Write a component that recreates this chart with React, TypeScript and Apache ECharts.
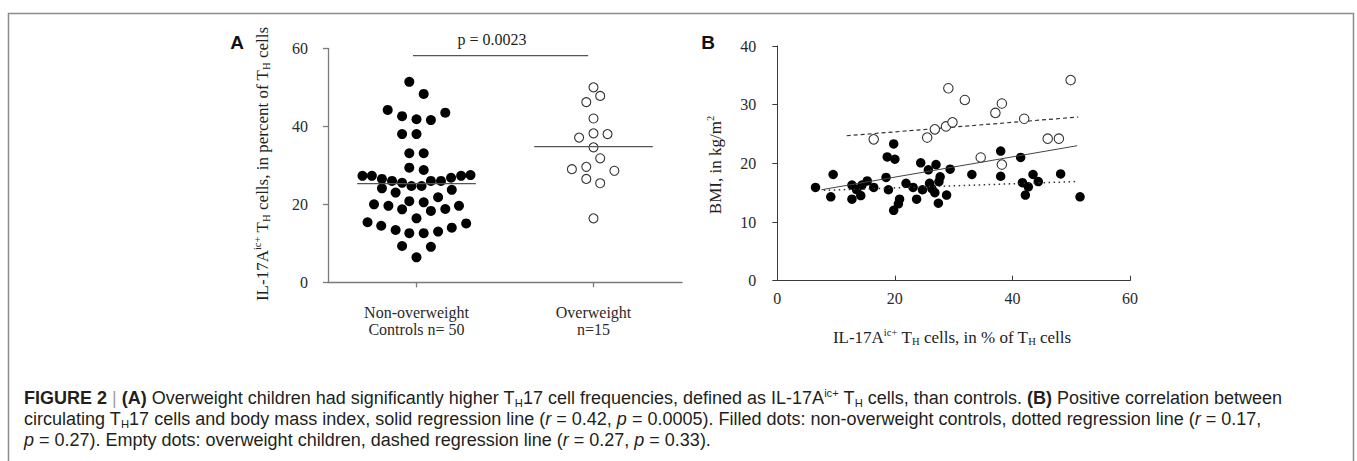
import React, { useEffect, useRef } from "react";
import * as echarts from "echarts";

// ---------- Panel A data ----------
const categoriesA = ["Non-overweight\nControls n= 50", "Overweight\nn=15"];
const controlsA = [
  51.4, 48.3, 44.2, 42.6, 41.8, 41.6, 43.5, 38.0, 38.0, 33.1, 33.1, 29.4, 28.8,
  27.3, 27.3, 26.5, 26.0, 25.5, 26.0, 26.0, 26.8, 27.3, 27.5, 24.1, 23.0, 24.7,
  24.7, 23.7, 21.8, 20.0, 19.6, 20.8, 20.5, 18.7, 18.3, 18.8, 19.6, 16.4, 15.4,
  14.5, 13.4, 12.6, 12.6, 13.0, 14.0, 15.1, 9.3, 9.1, 6.4,
];
// horizontal swarm slot of each dot (one slot = one half dot width)
const controlsSlot = [
  -1, 1, -4, -2, 0, 2, 4, -2, 0, -1, 1, -1, 1, -7.5, -6.2, -4.8, -3.4, -2, 2,
  3.4, 4.8, 6.2, 7.5, -4.8, -2.9, -0.7, 0.7, 4.9, 3, -5.9, -3.9, -1, 1, -2, 2,
  4, 5.9, 0, -6.8, -4.9, -2.9, -1, 1, 3, 4.9, 6.9, -2, 2, 0,
];
const overweightA = [
  50.0, 47.8, 46.2, 42.0, 37.1, 38.2, 38.0, 34.6, 31.8, 29.0, 29.6, 28.6, 26.5,
  25.4, 16.4,
];
const overweightSlot = [0, 0.93, -1, 0, -2, 0, 1.95, 0, 0.93, -3, -1, 2.9, -1, 0.93, 0];
const mediansA = [25.3, 34.8];
const pValueText = "p = 0.0023";
const pBarLevel = 58.1;

// ---------- Panel B data ----------
const controlsBx = [
  6.5, 9.1, 9.5, 12.7, 12.7, 13.5, 14.2, 14.4, 15.3, 16.4, 18.5, 18.7, 20.0,
  19.8, 18.9, 20.8, 20.6, 19.8, 21.9, 23.1, 23.7, 24.4, 24.7, 25.7, 25.9, 26.3,
  27.0, 27.7, 27.5, 26.8, 27.4, 28.8, 29.4, 33.1, 38.0, 38.0, 41.4, 41.7, 42.7,
  42.2, 43.5, 44.4, 48.2, 51.5,
];
const controlsBy = [
  15.9, 14.3, 18.1, 16.3, 13.9, 15.5, 14.5, 16.3, 17.0, 15.9, 17.6, 21.1, 20.7,
  23.3, 15.5, 13.9, 13.1, 12.0, 16.6, 15.9, 13.9, 20.1, 15.5, 18.9, 16.6, 15.7,
  19.8, 17.7, 16.9, 15.0, 13.2, 14.6, 19.0, 18.1, 22.1, 17.8, 21.0, 16.7, 16.0,
  14.6, 18.1, 16.9, 18.2, 14.3,
];
const overweightBx = [16.4, 25.5, 26.8, 28.7, 29.8, 29.1, 31.9, 34.6, 37.1, 38.2, 38.2, 42.0, 46.0, 47.9, 49.9];
const overweightBy = [24.1, 24.4, 25.8, 26.3, 27.0, 32.8, 30.8, 21.0, 28.6, 30.2, 19.8, 27.6, 24.2, 24.2, 34.2];
// regression line end points [x, y]
const allLine = [[7.5, 15.5], [51.0, 23.0]];
const controlsLine = [[7.9, 15.4], [51.0, 16.9]];
const overweightLine = [[11.8, 24.7], [51.2, 27.9]];

const captionLines = [
  "{b|FIGURE 2} {bar||} {b|(A)} Overweight children had significantly higher T{sub|H}17 cell frequencies, defined as IL-17A{sup|ic+} T{sub|H} cells, than controls. {b|(B)} Positive correlation between",
  "circulating T{sub|H}17 cells and body mass index, solid regression line ({i|r} = 0.42, {i|p} = 0.0005). Filled dots: non-overweight controls, dotted regression line ({i|r} = 0.17,",
  "{i|p} = 0.27). Empty dots: overweight children, dashed regression line ({i|r} = 0.27, {i|p} = 0.33).",
];

const SERIF = "'Liberation Serif', 'Times New Roman', serif";
const SANS = "'Liberation Sans', Arial, sans-serif";
const SLOT = 7.2 / 177;
const MEDIAN_HALF = 0.335;

function richStyles(size: number, family: string, color: string) {
  const s = Math.round(size * 0.62 * 10) / 10;
  return {
    sub: { fontSize: s, fontFamily: family, verticalAlign: "bottom", lineHeight: s, fill: color },
    sup: { fontSize: s, fontFamily: family, verticalAlign: "top", lineHeight: s, fill: color },
    b: { fontSize: size, fontFamily: family, fontWeight: "bold", fill: color },
    i: { fontSize: size, fontFamily: family, fontStyle: "italic", fill: color },
    bar: { fontSize: size, fontFamily: family, fill: "#a0a0a0" },
  };
}

function textEl(text: string, x: number, y: number, size: number, family: string, opts: any = {}) {
  const color = opts.color || "#222";
  return {
    type: "text",
    x,
    y,
    rotation: opts.rotation || 0,
    silent: true,
    style: {
      text,
      fontSize: size,
      fontFamily: family,
      fontWeight: opts.bold ? "bold" : "normal",
      fill: color,
      lineHeight: opts.lineHeight || Math.round(size * 1.25),
      align: opts.align || "center",
      verticalAlign: "middle",
      textAlign: opts.align || "center",
      textVerticalAlign: "middle",
      rich: richStyles(size, family, color),
    },
  };
}

export default function App() {
  const ref = useRef<HTMLDivElement>(null);
  useEffect(() => {
    document.body.style.margin = "0";
    if (!ref.current) return;
    const chart = echarts.init(ref.current, null, { renderer: "svg" });
    const axisGrayA = "#7a7a7a";
    const axisB = "#3a3a3a";
    const tickLabel = { fontFamily: SERIF, fontSize: 16, color: "#2a2a2a" };
    const option: any = {
      animation: false,
      backgroundColor: "#ffffff",
      grid: [
        { left: 328, top: 48.3, width: 354, height: 234 },
        { left: 777.3, top: 46, width: 352.7, height: 234.7 },
      ],
      xAxis: [
        {
          gridIndex: 0,
          type: "category",
          data: categoriesA,
          boundaryGap: true,
          axisLine: { show: true, lineStyle: { color: axisGrayA, width: 1.3 } },
          axisTick: { show: true, alignWithLabel: true, length: 5, lineStyle: { color: axisGrayA, width: 1.3 } },
          axisLabel: { ...tickLabel, margin: 22, lineHeight: 17, interval: 0 },
          splitLine: { show: false },
        },
        { gridIndex: 0, type: "value", min: 0, max: 2, show: false },
        {
          gridIndex: 1,
          type: "value",
          min: 0,
          max: 60,
          interval: 20,
          axisLine: { show: true, onZero: false, lineStyle: { color: axisB, width: 1 } },
          axisTick: { show: true, inside: true, length: 5, lineStyle: { color: axisB, width: 1 } },
          axisLabel: { ...tickLabel, margin: 10 },
          splitLine: { show: false },
        },
      ],
      yAxis: [
        {
          gridIndex: 0,
          type: "value",
          min: 0,
          max: 60,
          interval: 20,
          axisLine: { show: true, lineStyle: { color: axisGrayA, width: 1.3 } },
          axisTick: { show: true, length: 5, lineStyle: { color: axisGrayA, width: 1.3 } },
          axisLabel: { ...tickLabel, margin: 20 },
          splitLine: { show: false },
        },
        {
          gridIndex: 1,
          type: "value",
          min: 0,
          max: 40,
          interval: 10,
          axisLine: { show: true, onZero: false, lineStyle: { color: axisB, width: 1 } },
          axisTick: { show: true, length: 5, lineStyle: { color: axisB, width: 1 } },
          axisLabel: { ...tickLabel, margin: 21 },
          splitLine: { show: false },
        },
      ],
      series: [
        {
          type: "scatter",
          xAxisIndex: 1,
          yAxisIndex: 0,
          symbolSize: 10,
          itemStyle: { color: "#000", opacity: 1 },
          silent: true,
          data: controlsA.map((v, i) => [0.5 + controlsSlot[i] * SLOT, v]),
        },
        {
          type: "scatter",
          xAxisIndex: 1,
          yAxisIndex: 0,
          symbolSize: 9,
          itemStyle: { color: "#fff", borderColor: "#333", borderWidth: 1.1, opacity: 1 },
          silent: true,
          data: overweightA.map((v, i) => [1.5 + overweightSlot[i] * SLOT, v]),
        },
        ...mediansA.map((m, i) => ({
          type: "line",
          xAxisIndex: 1,
          yAxisIndex: 0,
          symbol: "none",
          silent: true,
          z: 5,
          lineStyle: { color: "#555", width: 1.3 },
          data: [
            [i + 0.5 - MEDIAN_HALF, m],
            [i + 0.5 + MEDIAN_HALF, m],
          ],
        })),
        {
          type: "line",
          xAxisIndex: 1,
          yAxisIndex: 0,
          symbol: "none",
          silent: true,
          lineStyle: { color: "#555", width: 1.3 },
          data: [
            [0.48, pBarLevel],
            [1.47, pBarLevel],
          ],
        },
        {
          type: "scatter",
          xAxisIndex: 2,
          yAxisIndex: 1,
          symbolSize: 9.5,
          itemStyle: { color: "#000", opacity: 1 },
          silent: true,
          data: controlsBx.map((x, i) => [x, controlsBy[i]]),
        },
        {
          type: "line",
          xAxisIndex: 2,
          yAxisIndex: 1,
          symbol: "none",
          silent: true,
          z: 3,
          lineStyle: { color: "#444", width: 1 },
          data: allLine,
        },
        {
          type: "line",
          xAxisIndex: 2,
          yAxisIndex: 1,
          symbol: "none",
          silent: true,
          z: 3,
          lineStyle: { color: "#333", width: 1.5, type: [1.5, 3.5] },
          data: controlsLine,
        },
        {
          type: "line",
          xAxisIndex: 2,
          yAxisIndex: 1,
          symbol: "none",
          silent: true,
          z: 3,
          lineStyle: { color: "#333", width: 1.2, type: [4, 3] },
          data: overweightLine,
        },
        {
          type: "scatter",
          xAxisIndex: 2,
          yAxisIndex: 1,
          symbolSize: 9.5,
          z: 4,
          itemStyle: { color: "#fff", borderColor: "#333", borderWidth: 1.1, opacity: 1 },
          silent: true,
          data: overweightBx.map((x, i) => [x, overweightBy[i]]),
        },
      ],
      graphic: [
        {
          type: "rect",
          silent: true,
          shape: { x: 8.5, y: 13.5, width: 1345, height: 480 },
          style: { fill: "none", stroke: "#8c8c8c", lineWidth: 1.5 },
        },
        textEl("A", 237, 42, 19, SANS, { bold: true, color: "#111" }),
        textEl("B", 708, 42, 19, SANS, { bold: true, color: "#111" }),
        textEl(pValueText, 492, 39, 16, SERIF),
        textEl(
          "IL-17A{sup|ic+} T{sub|H} cells, in percent of T{sub|H} cells",
          262,
          164,
          17,
          SERIF,
          { rotation: Math.PI / 2, lineHeight: 20 }
        ),
        textEl("BMI, in kg/m{sup|2}", 715, 165, 17, SERIF, { rotation: Math.PI / 2, lineHeight: 20 }),
        textEl("IL-17A{sup|ic+} T{sub|H} cells, in % of T{sub|H} cells", 952, 337, 17, SERIF, { lineHeight: 20 }),
        ...captionLines.map((line, i) =>
          textEl(line, 24, 398 + i * 21, 18, SANS, { align: "left", lineHeight: 21, color: "#231f20" })
        ),
      ],
    };
    chart.setOption(option);
    return () => chart.dispose();
  }, []);
  return <div ref={ref} style={{ width: 1357, height: 461 }} />;
}
